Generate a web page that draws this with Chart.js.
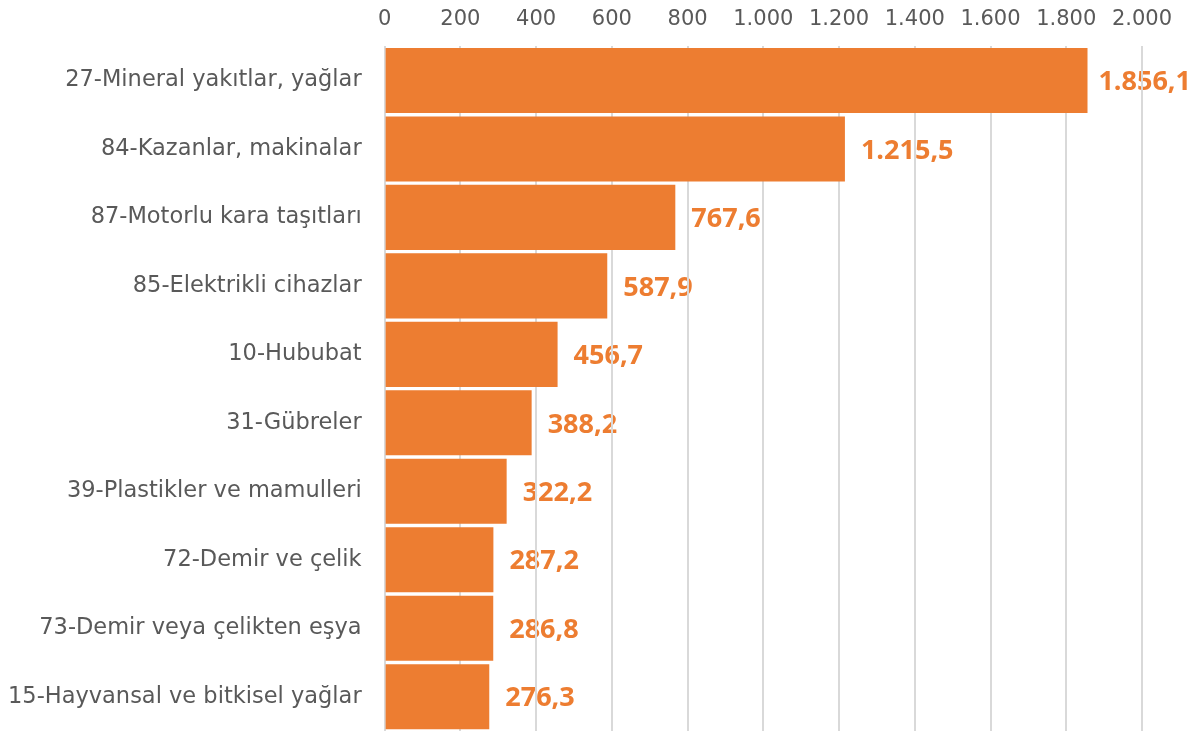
<!DOCTYPE html>
<html>
<head>
<meta charset="utf-8">
<script src="https://cdn.jsdelivr.net/npm/chart.js@4.4.1/dist/chart.umd.min.js"></script>
<style>
html,body{margin:0;padding:0;background:#fff;overflow:hidden;}
canvas{display:block;}
</style>
</head>
<body>
<canvas id="c" width="1197" height="731"></canvas>
<script>
const categories = [
  "27-Mineral yakıtlar, yağlar",
  "84-Kazanlar, makinalar",
  "87-Motorlu kara taşıtları",
  "85-Elektrikli cihazlar",
  "10-Hububat",
  "31-Gübreler",
  "39-Plastikler ve mamulleri",
  "72-Demir ve çelik",
  "73-Demir veya çelikten eşya",
  "15-Hayvansal ve bitkisel yağlar"
];
const values = [1856.1, 1215.5, 767.6, 587.9, 456.7, 388.2, 322.2, 287.2, 286.8, 276.3];
const tickValues = [0, 200, 400, 600, 800, 1000, 1200, 1400, 1600, 1800, 2000];

function fmtInt(v){
  const s = Math.round(v).toString();
  return s.replace(/\B(?=(\d{3})+(?!\d))/g, ".");
}
function fmtDec(v){
  const parts = v.toFixed(1).split(".");
  return fmtInt(parseInt(parts[0],10)) + "," + parts[1];
}

const labelPlugin = {
  id: 'valueLabels',
  beforeDraw(chart){
    const ctx = chart.ctx;
    const meta = chart.getDatasetMeta(0);
    ctx.save();
    ctx.font = "bold 27px 'Open Sans', sans-serif";
    ctx.fillStyle = "#ED7D31";
    ctx.textAlign = "left";
    ctx.textBaseline = "middle";
    meta.data.forEach((bar, i) => {
      const txt = fmtDec(values[i]);
      const w = ctx.measureText(txt).width;
      let x = bar.x + 16;
      if (x + w > chart.width - 6) x = chart.width - 6 - w;
      ctx.fillText(txt, x, bar.y + 2);
    });
    ctx.restore();
  }
};

new Chart(document.getElementById('c'), {
  type: 'bar',
  data: {
    labels: categories,
    datasets: [{
      data: values,
      backgroundColor: '#ED7D31',
      borderWidth: 0,
      barPercentage: 0.95,
      categoryPercentage: 1.0
    }]
  },
  options: {
    indexAxis: 'y',
    responsive: false,
    maintainAspectRatio: false,
    animation: false,
    devicePixelRatio: 1,
    layout: { padding: { left: -15, right: 55, top: -7, bottom: 0 } },
    plugins: { legend: { display: false }, tooltip: { enabled: false } },
    scales: {
      x: {
        position: 'top',
        min: 0, max: 2000,
        afterBuildTicks(scale){ scale.ticks = tickValues.map(v => ({value: v})); },
        grid: { color: '#d9d9d9', lineWidth: 2, drawTicks: false },
        border: { display: false },
        ticks: {
          color: '#595959',
          font: { family: "'DejaVu Sans', sans-serif", size: 21 },
          padding: 14,
          maxRotation: 0,
          callback: (v) => fmtInt(v)
        }
      },
      y: {
        grid: { display: false, drawTicks: false },
        border: { display: false },
        afterFit(scale){ scale.paddingTop = 0; scale.paddingBottom = 0; },
        ticks: {
          color: '#595959',
          font: { family: "'DejaVu Sans', sans-serif", size: 22.5 },
          padding: 23,
          autoSkip: false
        }
      }
    }
  },
  plugins: [labelPlugin]
});
</script>
</body>
</html>
